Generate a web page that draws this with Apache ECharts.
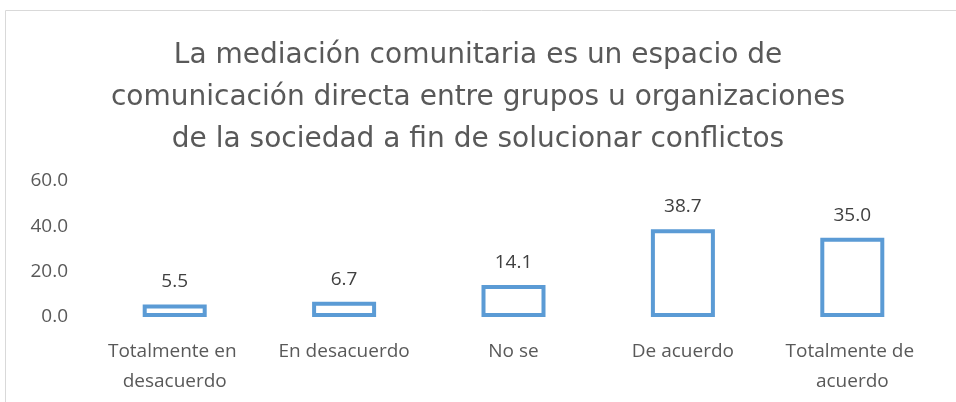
<!DOCTYPE html>
<html>
<head>
<meta charset="utf-8">
<script src="https://cdn.jsdelivr.net/npm/echarts@6/dist/echarts.min.js"></script>
<style>
  html, body { margin: 0; padding: 0; background: #fff; }
  #chart { width: 956px; height: 402px; }
</style>
</head>
<body>
<div id="chart"></div>
<script>
const categories = ['Totalmente en desacuerdo', 'En desacuerdo', 'No se', 'De acuerdo', 'Totalmente de acuerdo']
const values = [5.5, 6.7, 14.1, 38.7, 35.0]
const yTicks = [0, 20, 40, 60]
const titleText = 'La mediación comunitaria es un espacio de\ncomunicación directa entre grupos u organizaciones\nde la sociedad a fin de solucionar conflictos'

const chart = echarts.init(document.getElementById('chart'))
chart.setOption({
  animation: false,
  textStyle: { fontFamily: 'Open Sans' },
  graphic: [{
    type: 'rect',
    shape: { x: 5.5, y: 10.5, width: 960, height: 400 },
    style: { fill: 'none', stroke: '#d9d9d9', lineWidth: 1 },
    silent: true
  }],
  title: {
    text: titleText,
    left: 'center',
    top: 30,
    textStyle: {
      fontFamily: 'DejaVu Sans',
      fontSize: 28,
      fontWeight: 'normal',
      color: '#595959',
      lineHeight: 42
    }
  },
  grid: { left: 90, right: 19, top: 181, bottom: 85 },
  xAxis: {
    type: 'category',
    data: categories,
    axisLine: { show: false },
    axisTick: { show: false },
    axisLabel: {
      color: '#595959',
      fontSize: 19,
      lineHeight: 30,
      margin: 20,
      interval: 0,
      width: 165,
      overflow: 'break'
    }
  },
  yAxis: {
    type: 'value',
    min: yTicks[0],
    max: yTicks[yTicks.length - 1],
    interval: 20,
    axisLine: { show: false },
    axisTick: { show: false },
    splitLine: { show: false },
    axisLabel: {
      color: '#595959',
      fontSize: 19,
      margin: 22,
      formatter: v => v.toFixed(1)
    }
  },
  series: [{
    type: 'bar',
    data: values,
    barWidth: 64,
    itemStyle: {
      color: '#ffffff',
      borderColor: '#5b9bd5',
      borderWidth: 4
    },
    label: {
      show: true,
      position: 'top',
      distance: 13,
      color: '#404040',
      fontSize: 19,
      formatter: p => p.value.toFixed(1)
    }
  }]
})
</script>
</body>
</html>
